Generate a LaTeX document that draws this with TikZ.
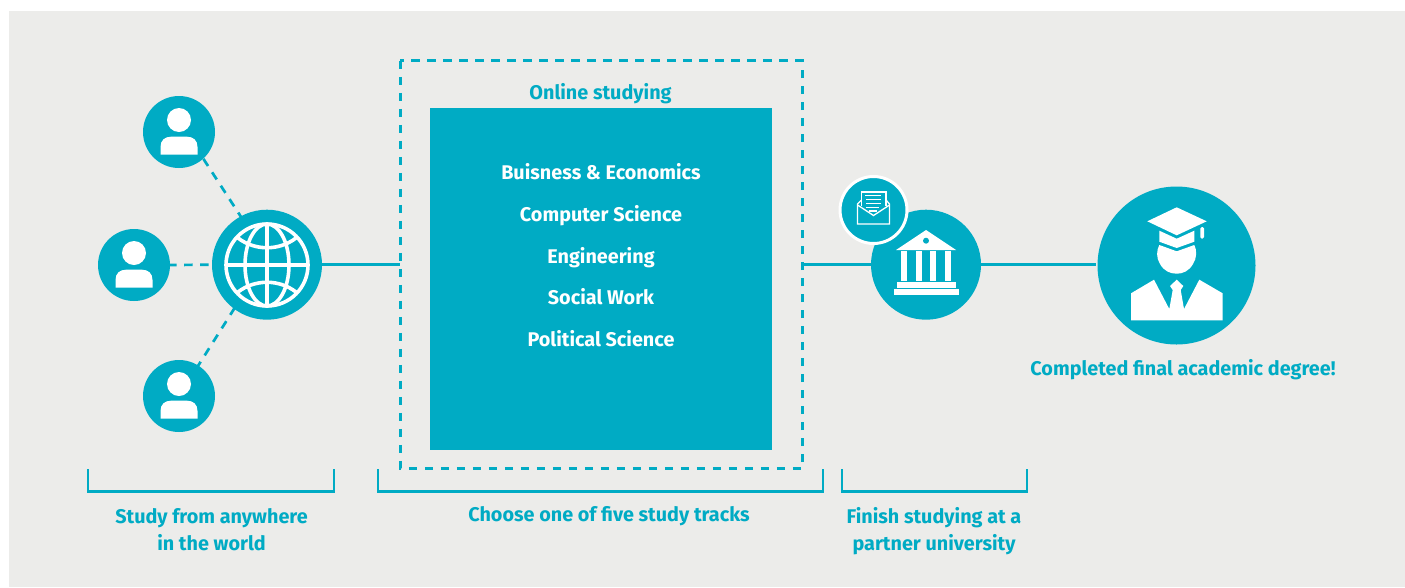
\documentclass[tikz,border=0pt]{standalone}
\usepackage{fontspec}
\setmainfont{Fira Sans}
\usetikzlibrary{backgrounds}
\definecolor{teal1}{HTML}{00ABC4}
\definecolor{bg1}{HTML}{ECECEA}
\tikzset{
  disc/.style={circle,fill=teal1,inner sep=0pt,minimum size=#1},
  link/.style={draw=teal1,line width=2.7pt},
  dashlink/.style={draw=teal1,line width=2.7pt,dash pattern=on 8.5pt off 7.5pt},
  bracket/.style={draw=teal1,line width=2.6pt,miter limit=10},
  lab/.style={text=teal1,font=\fontsize{19.8}{27}\selectfont\bfseries,align=center,inner sep=0pt,anchor=center},
  track/.style={text=white,font=\fontsize{19.8}{27}\selectfont\bfseries,inner sep=0pt,anchor=center},
  gl/.style={draw=white,line width=3.6pt},
}
\newcommand{\personicon}[2]{%
  \fill[white] (#1,#2-12) circle[radius=12];
  \fill[white] (#1-18.5,#2+22.7) -- (#1-18.5,#2+15) .. controls (#1-18.5,#2+8) and (#1-14,#2+4.7) .. (#1-8,#2+4.7)
    -- (#1+8,#2+4.7) .. controls (#1+14,#2+4.7) and (#1+18.5,#2+8) .. (#1+18.5,#2+15) -- (#1+18.5,#2+22.7) -- cycle;
}
\begin{document}
\begin{tikzpicture}[x=1pt,y=-1pt]
\useasboundingbox (0,0) rectangle (1405,587);
\begin{scope}[on background layer]
\fill[white] (0,0) rectangle (1405,587);
\fill[bg1] (9,11) rectangle (1405,587);
\end{scope}

% frames
\node[draw=none,minimum width=402pt,minimum height=407pt,inner sep=0pt] (frame) at (601.5,264.5) {};
\draw[dashlink] (frame.north west) rectangle (frame.south east);
\node[fill=teal1,minimum width=342pt,minimum height=342pt,inner sep=0pt] (tracks) at (601,279) {};

% discs
\node[disc=110pt] (globe) at (267,264.7) {};
\node[disc=72pt] (p1) at (179,132) {};
\node[disc=72pt] (p2) at (134,265) {};
\node[disc=72pt] (p3) at (179,396) {};
\node[disc=110pt] (bank) at (926,264.7) {};
\node[disc=158pt] (grad) at (1176.5,265.5) {};
\node[circle,fill=teal1,draw=white,line width=3pt,inner sep=0pt,minimum size=67pt] (mail) at (873.5,210) {};

% connectors
\begin{scope}[on background layer]
\draw[dashlink] ([xshift=7pt]p1.center) -- ([xshift=5pt]globe.center);
\draw[dashlink,dash phase=2pt] (p2.east) -- (globe.west);
\draw[dashlink] (p3.center) -- ([xshift=-5pt]globe.center);
\draw[link] (globe.east) -- (frame.west |- globe.east);
\draw[link] (frame.east |- bank.west) -- (bank.west);
\draw[link] (bank.east) -- ([xshift=-1pt]grad.west |- bank.east);
\end{scope}

% person icons
\personicon{179}{132}
\personicon{134}{265}
\personicon{179}{396}

% globe icon
\begin{scope}[shift={(267,265)}]
  \draw[gl] (0,0) circle[radius=41];
  \draw[gl] (0,0) ellipse[x radius=22,y radius=41];
  \draw[gl] (0,-41) -- (0,41);
  \draw[gl] (-41,0) -- (41,0);
  \draw[gl] (-29,-27) .. controls (-12,-14) and (12,-14) .. (29,-27);
  \draw[gl] (-29,27) .. controls (-12,14) and (12,14) .. (29,27);
\end{scope}

% bank icon
\fill[white] (896,250) -- (926,230) -- (956,250) -- cycle;
\fill[teal1] (926,240.7) circle[radius=3];
\fill[white] (901,251) rectangle (907,281);
\fill[white] (916,251) rectangle (922,281);
\fill[white] (930,251) rectangle (936,281);
\fill[white] (945,251) rectangle (951,281);
\fill[white] (897,282) rectangle (956,288);
\fill[white] (894,289) rectangle (959,295);

% mail icon
\begin{scope}[draw=white,line width=1.3pt]
  \draw (861.5,206) -- (861.5,192) -- (886,192) -- (886,206);
  \draw (861.5,200) -- (857.5,204) -- (857.5,224) -- (889.5,224) -- (889.5,204) -- (886,200);
  \draw (857.5,205) -- (873.5,215.5) -- (889.5,205);
  \draw (865,195.5) -- (881,195.5);
  \draw (866,199.5) -- (881,199.5);
  \draw (866,203.5) -- (881,203.5);
  \draw (866,207.5) -- (879,207.5);
  \draw (869,211) -- (877,211);
\end{scope}

% graduate icon
\fill[white] (1176.7,207.3) -- (1206.7,221.3) -- (1176.7,235.3) -- (1147.3,221.3) -- cycle;
\fill[white] (1159.3,230.7) -- (1176.7,238.7) -- (1194.3,230.7) -- (1194.3,241.7) -- (1176.7,248) -- (1159.3,241.7) -- cycle;
\fill[white,rounded corners=1.5pt] (1200.3,227) rectangle (1204,238.7);
\fill[white] (1159.3,245) -- (1176.7,251.3) -- (1194.3,245) .. controls (1197,250) and (1197,258) .. (1193,264) .. controls (1189,271) and (1183,273.7) .. (1176.7,273.7) .. controls (1170,273.7) and (1164,271) .. (1160,264) .. controls (1156,258) and (1156.5,250) .. (1159.3,245) -- cycle;
\fill[white] (1131,293.3) -- (1154,279.7) -- (1169.3,309) -- (1172.7,290) -- (1170,286) -- (1176.7,279.7) -- (1183.3,286) -- (1180.7,290) -- (1184,309) -- (1199.3,279.7) -- (1222.7,293.3) -- (1222.7,320.3) -- (1131,320.3) -- cycle;

% brackets
\draw[bracket] (88,469) -- (88,491.5) -- (334,491.5) -- (334,469);
\draw[bracket] (378,469) -- (378,491.5) -- (823,491.5) -- (823,469);
\draw[bracket] (842,469) -- (842,491.5) -- (1027,491.5) -- (1027,469);

% texts
\node[lab] (tOnline) at (600.5,94) {Online studying};
\node[track] (t1) at (601,172) {Buisness \& Economics};
\node[track] (t2) at (601,216) {Computer Science};
\node[track] (t3) at (601,258) {Engineering};
\node[track] (t4) at (601,297) {Social Work};
\node[track] (t5) at (601,339) {Political Science};
\node[lab] (tDegree) at (1183,370) {Completed final academic degree!};
\node[lab] (tStudy) at (211.5,530) {Study from anywhere\\in the world};
\node[lab] (tChoose) at (609,516.5) {Choose one of five study tracks};
\node[lab] (tFinish) at (934,531) {Finish studying at a\\partner university};
\end{tikzpicture}
\end{document}
